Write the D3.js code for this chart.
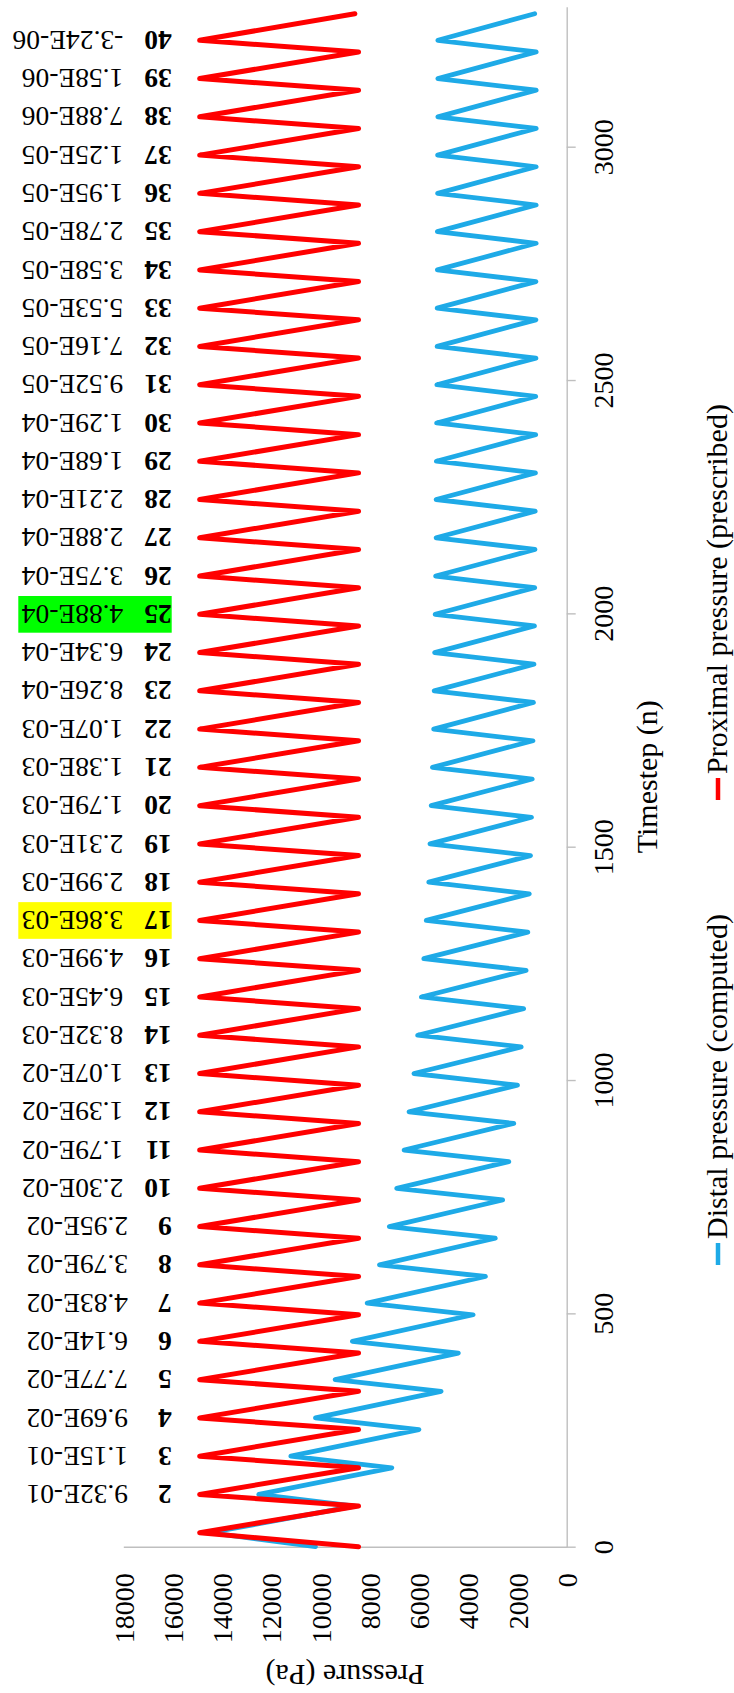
<!DOCTYPE html>
<html>
<head>
<meta charset="utf-8">
<script src="https://cdn.jsdelivr.net/npm/d3@7"></script>
<style>
  html, body { margin: 0; padding: 0; background: #fff; }
  svg { display: block; }
</style>
</head>
<body>
<svg id="chart" width="734" height="1693"></svg>
<script>
// Timestep of every vertex of the pressure waveforms (trough / peak alternating)
const vertexStep = [0, 30, 87, 112, 169, 194, 251, 276, 333, 358, 415, 440, 497, 522, 579, 604,
  661, 686, 743, 768, 825, 850, 907, 932, 989, 1014, 1071, 1096, 1153, 1178, 1235, 1260,
  1317, 1342, 1399, 1424, 1481, 1506, 1563, 1588, 1645, 1670, 1727, 1752, 1809, 1834,
  1891, 1916, 1973, 1998, 2055, 2080, 2137, 2162, 2219, 2244, 2301, 2326, 2383, 2408,
  2465, 2490, 2547, 2572, 2629, 2654, 2711, 2736, 2793, 2818, 2875, 2900, 2957, 2982,
  3039, 3064, 3121, 3146, 3203, 3228, 3285];

// Proximal pressure (prescribed), Pa
const proximalPressure = [8450, 14900, 8450, 14900, 8450, 14900, 8450, 14900, 8450, 14900,
  8450, 14900, 8450, 14900, 8450, 14900, 8450, 14900, 8450, 14900, 8450, 14900, 8450, 14900,
  8450, 14900, 8450, 14900, 8450, 14900, 8450, 14900, 8450, 14900, 8450, 14900, 8450, 14900,
  8450, 14900, 8450, 14900, 8450, 14900, 8450, 14900, 8450, 14900, 8450, 14900, 8450, 14900,
  8450, 14900, 8450, 14900, 8450, 14900, 8450, 14900, 8450, 14900, 8450, 14900, 8450, 14900,
  8450, 14900, 8450, 14900, 8450, 14900, 8450, 14900, 8450, 14900, 8450, 14900, 8450, 14900,
  8600];

// Distal pressure (computed), Pa
const distalPressure = [10200, 14500, 8600, 12500, 7100, 11200, 6000, 10200, 5100, 9400,
  4400, 8700, 3800, 8100, 3300, 7600, 2900, 7200, 2600, 6900, 2350, 6600, 2150, 6400,
  2000, 6200, 1850, 6050, 1750, 5900, 1650, 5800, 1580, 5700, 1520, 5600, 1470, 5550,
  1430, 5500, 1400, 5450, 1370, 5400, 1350, 5380, 1330, 5360, 1310, 5340, 1300, 5320,
  1290, 5300, 1280, 5300, 1270, 5290, 1260, 5280, 1260, 5270, 1250, 5260, 1250, 5260,
  1250, 5250, 1240, 5250, 1240, 5240, 1240, 5240, 1240, 5230, 1240, 5230, 1240, 5230,
  1300];

// Cycle annotations placed at the proximal peaks
const cycleNumber = [2, 3, 4, 5, 6, 7, 8, 9, 10, 11, 12, 13, 14, 15, 16, 17, 18, 19, 20,
  21, 22, 23, 24, 25, 26, 27, 28, 29, 30, 31, 32, 33, 34, 35, 36, 37, 38, 39, 40];
const cyclePeakStep = [112, 194, 276, 358, 440, 522, 604, 686, 768, 850, 932, 1014, 1096,
  1178, 1260, 1342, 1424, 1506, 1588, 1670, 1752, 1834, 1916, 1998, 2080, 2162, 2244,
  2326, 2408, 2490, 2572, 2654, 2736, 2818, 2900, 2982, 3064, 3146, 3228];
const cycleValue = ["9.32E-01", "1.15E-01", "9.69E-02", "7.77E-02", "6.14E-02", "4.83E-02",
  "3.79E-02", "2.95E-02", "2.30E-02", "1.79E-02", "1.39E-02", "1.07E-02", "8.32E-03",
  "6.45E-03", "4.99E-03", "3.86E-03", "2.99E-03", "2.31E-03", "1.79E-03", "1.38E-03",
  "1.07E-03", "8.26E-04", "6.34E-04", "4.88E-04", "3.75E-04", "2.88E-04", "2.21E-04",
  "1.68E-04", "1.29E-04", "9.52E-05", "7.16E-05", "5.53E-05", "3.58E-05", "2.78E-05",
  "1.95E-05", "1.25E-05", "7.88E-06", "1.58E-06", "-3.24E-06"];
const highlighted = { 17: "#ffff00", 25: "#00ff00" };

// Axis ticks
const stepTicks = [0, 500, 1000, 1500, 2000, 2500, 3000];
const pressureTicks = [0, 2000, 4000, 6000, 8000, 10000, 12000, 14000, 16000, 18000];

const FONT = "'Liberation Serif', 'Times New Roman', serif";
const AXIS_GREY = "#bfbfbf";
const RED = "#ff0000";
const BLUE = "#1eaae7";

const svg = d3.select("#chart");
svg.append("rect").attr("width", 734).attr("height", 1693).attr("fill", "#fff");

// Pressure runs right-to-left, timestep runs bottom-to-top
const x = d3.scaleLinear().domain([0, 18000]).range([566.7, 123.3]);
const y = d3.scaleLinear().domain([0, 3300]).range([1546.7, 6.7]);

// Timestep axis
const gT = svg.append("g")
  .attr("transform", `translate(${x(0)},0)`)
  .call(d3.axisRight(y).tickValues(stepTicks).tickSize(9).tickSizeOuter(0)
    .tickFormat(d3.format("d")));
gT.attr("font-family", null).attr("font-size", null)
  .style("font-family", FONT).style("font-size", "28px");
gT.selectAll("path.domain, .tick line").attr("stroke", AXIS_GREY).attr("stroke-width", 1.4);
gT.selectAll(".tick text")
  .attr("x", 0).attr("y", 0).attr("dy", "0.35em")
  .attr("text-anchor", "middle").attr("fill", "#000")
  .attr("transform", "translate(36.6,0) rotate(-90)");

// Pressure axis
const gP = svg.append("g")
  .attr("transform", `translate(0,${y(0)})`)
  .call(d3.axisBottom(x).tickValues(pressureTicks).tickSize(0).tickSizeOuter(0)
    .tickFormat(d3.format("d")));
gP.attr("font-family", null).attr("font-size", null)
  .style("font-family", FONT).style("font-size", "28px");
gP.selectAll("path.domain").attr("stroke", AXIS_GREY).attr("stroke-width", 1.4);
gP.selectAll(".tick text")
  .attr("x", 0).attr("y", 0).attr("dy", "0.35em")
  .attr("text-anchor", "end").attr("fill", "#000")
  .attr("transform", "translate(0,26.6) rotate(-90)");

// Axis titles
svg.append("text")
  .attr("transform", `translate(${(x(0) + x(18000)) / 2},1665) rotate(180)`)
  .attr("text-anchor", "middle")
  .style("font-family", FONT).style("font-size", "30px")
  .text("Pressure (Pa)");
svg.append("text")
  .attr("transform", `translate(657,${(y(0) + y(3300)) / 2}) rotate(-90)`)
  .attr("text-anchor", "middle")
  .style("font-family", FONT).style("font-size", "30px")
  .text("Timestep (n)");

// Series
const line = (vals) => d3.line()
  .x((d, i) => x(vals[i]))
  .y((d, i) => y(vertexStep[i]))
  .curve(d3.curveLinear)(vertexStep);

svg.append("path").attr("d", line(distalPressure))
  .attr("fill", "none").attr("stroke", BLUE).attr("stroke-width", 4.8)
  .attr("stroke-linejoin", "round").attr("stroke-linecap", "round");
svg.append("path").attr("d", line(proximalPressure))
  .attr("fill", "none").attr("stroke", RED).attr("stroke-width", 5)
  .attr("stroke-linejoin", "round").attr("stroke-linecap", "round");

// Cycle annotations (upside-down rows: bold cycle number, then value)
const ann = svg.append("g").style("font-family", FONT).style("font-size", "27.5px");
cycleNumber.forEach((n, i) => {
  const yc = y(cyclePeakStep[i]);
  if (highlighted[n]) {
    ann.append("rect").attr("x", 18.3).attr("y", yc - 18.3)
      .attr("width", 153.4).attr("height", 36.7).attr("fill", highlighted[n]);
  }
  ann.append("text")
    .attr("transform", `translate(171.7,${yc}) rotate(180)`)
    .attr("dy", "0.34em").attr("font-weight", "bold").text(n);
  ann.append("text")
    .attr("transform", `translate(${n < 10 ? 128 : 123.3},${yc}) rotate(180)`)
    .attr("dy", "0.34em").text(cycleValue[i]);
});

// Legend
const legend = [
  { name: "Distal pressure (computed)", color: BLUE, start: 1265 },
  { name: "Proximal pressure (prescribed)", color: RED, start: 800 }
];
legend.forEach(d => {
  svg.append("line").attr("x1", 718).attr("x2", 718)
    .attr("y1", d.start).attr("y2", d.start - 22)
    .attr("stroke", d.color).attr("stroke-width", 4.5);
  svg.append("text")
    .attr("transform", `translate(727,${d.start - 26}) rotate(-90)`)
    .attr("text-anchor", "start")
    .style("font-family", FONT).style("font-size", "30px")
    .text(d.name);
});
</script>
</body>
</html>
